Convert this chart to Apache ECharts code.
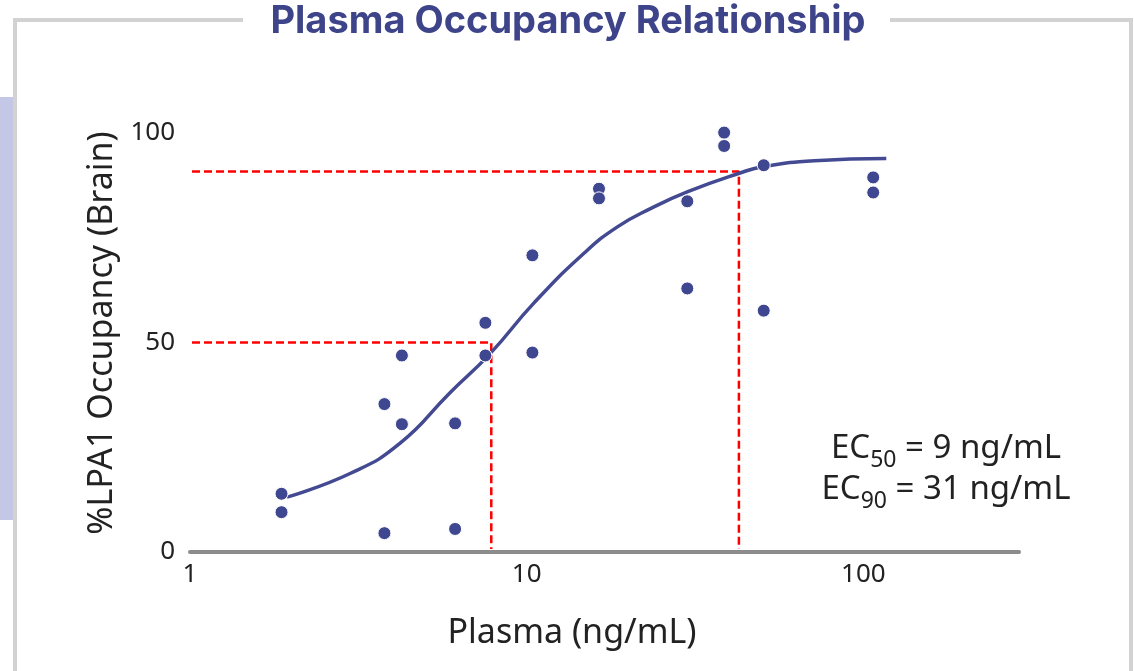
<!DOCTYPE html>
<html>
<head>
<meta charset="utf-8">
<script src="https://cdn.jsdelivr.net/npm/echarts/dist/echarts.min.js"></script>
<style>
  html, body { margin: 0; padding: 0; background: #fff; }
  #chart { width: 1134px; height: 671px; }
</style>
</head>
<body>
<div id="chart"></div>
<script>
// measured samples (plasma ng/mL, % occupancy)
var plasma = [1.87, 1.87, 3.78, 3.78, 4.26, 4.26, 6.13, 6.13, 7.54, 7.54, 10.4, 10.4,
  16.4, 16.4, 30.0, 30.0, 38.6, 38.6, 50.6, 50.6, 107, 107];
var occupancy = [13.9, 9.5, 4.5, 35.3, 46.9, 30.5, 5.5, 30.7, 54.7, 46.9, 70.8, 47.6,
  86.7, 84.4, 83.7, 62.9, 100.1, 96.9, 92.3, 57.6, 89.4, 85.8];

// fitted curve
var fitX = [1.94, 3.0, 4.2, 5.9, 7.8, 10.5, 14.8, 18.6, 23.4, 30.1, 42.8, 50.6, 71.6, 117];
var fitY = [13.1, 18.8, 25.9, 37.9, 47.4, 59.4, 71.3, 77.6, 82.0, 86.0, 90.4, 92.0, 93.4, 93.9];

// red guide lines
var ec50Guide = [[0.934, 50], [7.85, 50], [7.85, 0.7]];
var ec90Guide = [[0.934, 90.8], [42.7, 90.8], [42.7, 0.7]];

var yTicks = [0, 50, 100];

var chart = echarts.init(document.getElementById("chart"));

var points = plasma.map(function (x, i) { return [x, occupancy[i]]; });
var fit = fitX.map(function (x, i) { return [x, fitY[i]]; });

var guideStyle = { color: "#ff0000", width: 2.5, type: [8, 4] };

// EC label: subscript sits lower than the main text
var ecRich = {
  n: { fontSize: 33, lineHeight: 40, verticalAlign: "top", fontFamily: "Noto Sans", fill: "#222" },
  s: { fontSize: 23, lineHeight: 23, verticalAlign: "bottom", fontFamily: "Noto Sans", fill: "#222" },
};

chart.setOption({
  animation: false,
  grid: {
    left: 190,
    right: 115,
    top: 133,
    bottom: 119,
    outerBoundsMode: "none",
  },
  xAxis: {
    type: "log",
    logBase: 10,
    min: 1,
    max: 290,
    axisLine: { lineStyle: { color: "#8c8c8c", width: 4, cap: "round" } },
    axisTick: { show: false },
    splitLine: { show: false },
    axisLabel: {
      fontSize: 26,
      color: "#222",
      margin: 10,
      fontFamily: "Noto Sans",
      showMaxLabel: false,
    },
  },
  yAxis: {
    type: "value",
    min: yTicks[0],
    max: yTicks[yTicks.length - 1],
    interval: 50,
    axisLine: { show: false },
    axisTick: { show: false },
    splitLine: { show: false },
    axisLabel: {
      fontSize: 26,
      color: "#222",
      margin: 15,
      fontFamily: "Noto Sans",
    },
  },
  series: [
    {
      type: "line",
      data: ec50Guide,
      showSymbol: false,
      clip: false,
      lineStyle: guideStyle,
      z: 1,
    },
    {
      type: "line",
      data: ec90Guide,
      showSymbol: false,
      clip: false,
      lineStyle: guideStyle,
      z: 1,
    },
    {
      type: "line",
      data: fit,
      smooth: 0.5,
      showSymbol: false,
      lineStyle: { color: "#434a91", width: 3.5 },
      z: 2,
    },
    {
      type: "scatter",
      data: points,
      symbolSize: 13,
      clip: false,
      itemStyle: { color: "#3f4790", opacity: 1, borderColor: "#fff", borderWidth: 1 },
      z: 3,
    },
  ],
  graphic: [
    // frame
    { type: "rect", shape: { x: 0, y: 97, width: 13, height: 423 }, style: { fill: "#c5c7e6" } },
    { type: "line", shape: { x1: 15, y1: 20, x2: 15, y2: 671 }, style: { stroke: "#d2d2d2", lineWidth: 4 } },
    { type: "line", shape: { x1: 1131, y1: 20, x2: 1131, y2: 671 }, style: { stroke: "#d2d2d2", lineWidth: 4 } },
    { type: "line", shape: { x1: 13, y1: 20, x2: 243, y2: 20 }, style: { stroke: "#d2d2d2", lineWidth: 4 } },
    { type: "line", shape: { x1: 890, y1: 20, x2: 1133, y2: 20 }, style: { stroke: "#d2d2d2", lineWidth: 4 } },
    {
      type: "text",
      x: 568,
      y: 22,
      style: {
        text: "Plasma Occupancy Relationship",
        fontSize: 38,
        fontWeight: "bold",
        fontFamily: "Inter",
        fill: "#3e4489",
        align: "center",
        verticalAlign: "middle",
      },
    },
    {
      type: "text",
      x: 572,
      y: 633,
      style: {
        text: "Plasma (ng/mL)",
        fontSize: 34,
        fontFamily: "Noto Sans",
        fill: "#222",
        align: "center",
        verticalAlign: "middle",
      },
    },
    {
      type: "text",
      x: 102,
      y: 333,
      rotation: Math.PI / 2,
      style: {
        text: "%LPA1 Occupancy (Brain)",
        fontSize: 34,
        fontFamily: "Noto Sans",
        fill: "#222",
        align: "center",
        verticalAlign: "middle",
      },
    },
    {
      type: "text",
      x: 946,
      y: 452,
      style: {
        text: "{n|EC}{s|50}{n| = 9 ng/mL}",
        align: "center",
        verticalAlign: "middle",
        rich: ecRich,
      },
    },
    {
      type: "text",
      x: 946,
      y: 493,
      style: {
        text: "{n|EC}{s|90}{n| = 31 ng/mL}",
        align: "center",
        verticalAlign: "middle",
        rich: ecRich,
      },
    },
  ],
});
</script>
</body>
</html>
